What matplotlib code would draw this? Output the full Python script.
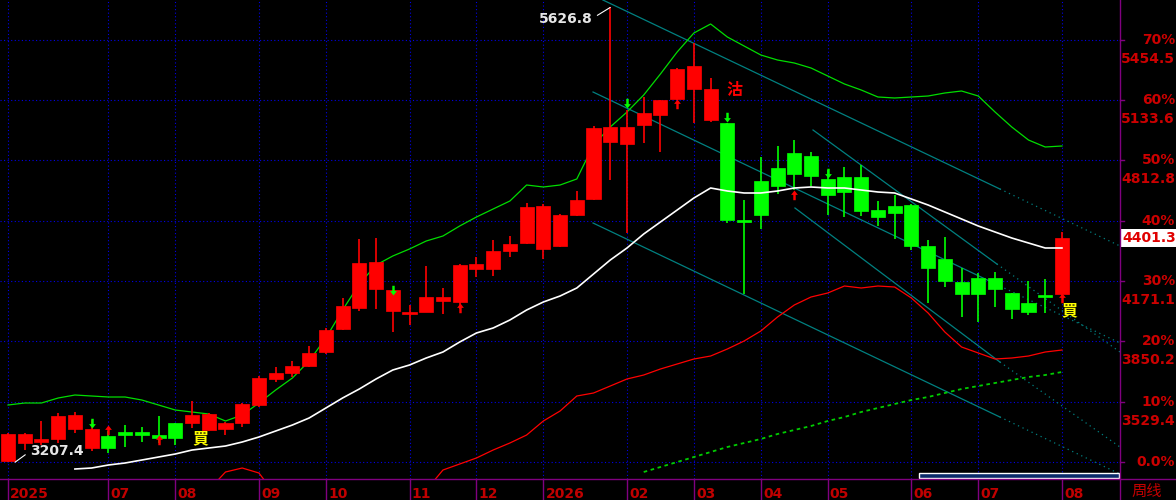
import matplotlib.pyplot as plt
import numpy as np
from matplotlib.lines import Line2D
from matplotlib.patches import Rectangle
from matplotlib.path import Path

nan = np.nan

# weekly candles (index 0 = first visible week of 2025)
opens = [3215, 3309.6, 3314.9, 3330.9, 3384.1, 3283, 3346.8, 3368.1, 3368.1, 3352.1,
         3416, 3416, 3378.7, 3384.1, 3416, 3511.7, 3650.1, 3682, 3719.2, 3793.7,
         3916.1, 4027.8, 4128.9, 4011.8, 3995.9, 4006.5, 4065, 4059.7, 4235.3, 4235.3,
         4331, 4373.6, 4341.7, 4357.6, 4522.5, 4607.7, 4910.9, 4900.3, 5001.3, 5054.5,
         5139.7, 5192.9, 5027.9, 5012, 4490.6, 4703.4, 4772.6, 4852.4, 4836.4, 4714.1,
         4724.7, 4724.7, 4549.1, 4570.4, 4575.7, 4357.6, 4288.5, 4166.1, 4187.4, 4187.4,
         4107.6, 4054.4, 4096.9, 4102.3]
highs = [3362.8, 3362.8, 3426.6, 3469.2, 3474.5, 3431.9, 3373.4, 3405.3, 3394.7, 3453.2,
         3416, 3533, 3469.2, 3421.3, 3522.4, 3666, 3713.9, 3745.8, 3825.6, 3921.4,
         4081, 4394.9, 4400.2, 4123.5, 4043.7, 4251.2, 4134.2, 4261.9, 4299.1, 4389.5,
         4410.8, 4586.4, 4581.1, 4527.9, 4650.2, 4996, 5626.8, 5081.1, 5150.3, 5134.3,
         5304.6, 5437.6, 5251.4, 5012, 4602.3, 4831.1, 4889.6, 4921.5, 4857.7, 4761.9,
         4777.9, 4788.5, 4597, 4628.9, 4581.1, 4389.5, 4405.5, 4240.6, 4214, 4219.3,
         4107.6, 4171.4, 4182.1, 4432.1]
lows = [3207.4, 3272.3, 3298.9, 3309.6, 3362.8, 3267, 3256.4, 3288.3, 3314.9, 3309.6,
        3298.9, 3389.4, 3373.4, 3352.1, 3394.7, 3501.1, 3634.1, 3660.7, 3713.9, 3783.1,
        3910.7, 4011.8, 4022.5, 3900.1, 3937.3, 4006.5, 3995.9, 4022.5, 4192.7, 4198,
        4299.1, 4368.3, 4288.5, 4352.3, 4517.2, 4602.3, 4708.7, 4426.8, 4905.6, 4857.7,
        5134.3, 5012, 5017.3, 4480, 4102.3, 4448.1, 4634.3, 4655.5, 4676.8, 4522.5,
        4511.9, 4517.2, 4464, 4394.9, 4336.3, 4054.4, 4139.5, 3979.9, 3953.3, 4033.1,
        3969.3, 3990.5, 4001.2, 4091.6]
closes = [3357.5, 3357.5, 3330.9, 3453.2, 3458.5, 3384.1, 3283, 3352.1, 3352.1, 3336.2,
          3336.2, 3458.5, 3463.9, 3416, 3517.1, 3655.4, 3682, 3719.2, 3788.4, 3910.7,
          4038.4, 4267.2, 4272.5, 4123.5, 4006.5, 4086.3, 4086.3, 4256.5, 4261.9, 4331,
          4368.3, 4565.1, 4570.4, 4522.5, 4602.3, 4985.4, 4990.7, 4990.7, 5065.2, 5134.3,
          5299.3, 5315.2, 5192.9, 4495.9, 4485.3, 4522.5, 4676.8, 4740.7, 4730, 4628.9,
          4644.9, 4543.8, 4511.9, 4533.2, 4357.6, 4240.6, 4171.4, 4102.3, 4102.3, 4128.9,
          4022.5, 4006.5, 4086.3, 4401.3]

# indicator lines, one value per week
band_up = [3511.7, 3522.4, 3522.4, 3549, 3564.9, 3559.6, 3554.3, 3554.3, 3538.3, 3511.7,
           3485.1, 3474.5, 3463.9, 3426.6, 3458.5, 3522.4, 3591.5, 3655.4, 3745.8, 3868.2,
           4017.1, 4155.5, 4256.5, 4304.4, 4341.7, 4384.2, 4410.8, 4464, 4511.9, 4554.5,
           4597, 4682.1, 4671.5, 4682.1, 4714.1, 4894.9, 4990.7, 5070.5, 5160.9, 5272.7,
           5389.7, 5490.8, 5538.7, 5469.5, 5421.6, 5373.7, 5347.1, 5331.2, 5304.6, 5262,
           5219.5, 5187.5, 5150.3, 5145, 5150.3, 5155.6, 5171.6, 5182.2, 5155.6, 5070.5,
           4990.7, 4921.5, 4884.3, 4889.6]
ma_mid = [nan, nan, nan, nan, 3171.3, 3176.6, 3192.5, 3203.2, 3219.1, 3235.1,
          3251.1, 3272.3, 3283, 3293.6, 3314.9, 3341.5, 3373.4, 3405.3, 3442.6, 3495.8,
          3549, 3596.9, 3650.1, 3697.9, 3724.5, 3761.8, 3793.7, 3846.9, 3894.8, 3921.4,
          3963.9, 4017.1, 4059.7, 4091.6, 4134.2, 4208.7, 4283.1, 4347, 4421.5, 4485.3,
          4549.1, 4613, 4666.2, 4650.2, 4639.6, 4639.6, 4650.2, 4666.2, 4671.5, 4666.2,
          4666.2, 4655.5, 4644.9, 4639.6, 4607.7, 4575.7, 4538.5, 4501.3, 4464, 4432.1,
          4400.2, 4373.6, 4347, 4347]
band_low = [nan, nan, nan, nan, nan, nan, nan, nan, nan, nan,
            2953.1, 2979.7, 3059.5, 3155.3, 3176.6, 3150, 3032.9, 2979.7, 2926.5, 2899.9,
            2899.9, 2910.6, 2942.5, 2979.7, 3017, 3059.5, 3165.9, 3197.9, 3229.8, 3272.3,
            3309.6, 3352.1, 3426.6, 3479.8, 3559.6, 3575.6, 3612.8, 3650.1, 3671.3, 3703.3,
            3729.9, 3756.5, 3772.4, 3809.7, 3852.2, 3905.4, 3979.9, 4043.7, 4086.3, 4107.6,
            4144.8, 4134.2, 4144.8, 4139.5, 4081, 4001.2, 3900.1, 3820.3, 3788.4, 3756.5,
            3761.8, 3772.4, 3793.7, 3804.3]
ma_long = [nan] * 38 + [3155.3, 3181.9,
           3208.5, 3235.1, 3261.7, 3288.3, 3309.6, 3330.9, 3357.5, 3378.7, 3400, 3426.6,
           3447.9, 3474.5, 3495.8, 3517.1, 3538.3, 3554.3, 3575.6, 3596.9, 3612.8, 3628.8,
           3644.7, 3660.7, 3671.3, 3687.3]

# channel lines: start, end of solid part, end of dotted extension (week index, price)
chan_x0 = [35.56, 34.97, 34.97, 48.12, 47.04]
chan_p0 = [5666.3, 5176.9, 4480.0, 4974.7, 4559.8]
chan_x1 = [59.29, 59.29, 59.29, 59.11, 59.29]
chan_p1 = [4660.9, 4144.8, 3447.9, 4261.9, 3740.5]
chan_x2 = [66.47, 66.47, 66.47, 66.47, 66.47]
chan_p2 = [4357.6, 3841.6, 3144.7, 3793.7, 3288.3]

# signals
up_idx = [6, 9, 27, 40, 47, 63]
up_tip = [3405.3, 3352.1, 4054.4, 5139.7, 4655.5, 4107.6]
down_idx = [5, 23, 37, 43, 49]
down_tip = [3389.4, 4096.9, 5091.8, 5017.3, 4719.4]
buy_x = [11.48, 63.42]
buy_p = [3336.2, 4017.1]
sell_x = [43.45]
sell_p = [5187.5]

month_idx = [0, 6, 10, 15, 19, 24, 28, 32, 37, 41, 45, 49, 54, 58, 63]
month_labels = ['2025', '07', '08', '09', '10', '11', '12', '2026',
                '02', '03', '04', '05', '06', '07', '08']

pct_prices = [3208.5, 3529.4, 3850.2, 4171.1, 4491.9, 4812.8, 5133.6, 5454.5]
pct_labels = ['0.0%', '10%', '20%', '30%', '40%', '50%', '60%', '70%']
price_labels = ['', '3529.4', '3850.2', '4171.1', '', '4812.8', '5133.6', '5454.5']
last_price = 4401.3
high_idx, high_price = 36, 5626.8
low_idx, low_price = 0, 3207.4

# ---- figure ----
fig = plt.figure(figsize=(11.76, 5.0), dpi=100, facecolor='black')
ax = fig.add_axes([0, 21 / 500, 1120 / 1176, 479 / 500])
ax.set_facecolor('black')
ax.set_xlim(-0.478, 66.47)
ax.set_ylim(3118.1, 5666.3)
ax.set_axis_off()

grid_kw = dict(color='#0000e8', lw=0.8, ls=(0, (1, 2.2)), zorder=1)
for p in pct_prices:
    ax.axhline(p, **grid_kw)
for m in month_idx:
    ax.axvline(m, **grid_kw)

# channels
for i in range(len(chan_x0)):
    ax.plot([chan_x0[i], chan_x1[i]], [chan_p0[i], chan_p1[i]], color='#008080', lw=0.9, zorder=2)
    ax.plot([chan_x1[i], chan_x2[i]], [chan_p1[i], chan_p2[i]], color='#008080', lw=0.9,
            ls=(0, (1, 3)), zorder=2)

x = np.arange(len(opens))
ax.plot(x, band_up, color='#00dd00', lw=0.9, zorder=3)
ax.plot(x, band_low, color='#ff0000', lw=0.9, zorder=3)
ax.plot(x, ma_long, color='#00cc00', lw=1.3, ls=(0, (2, 2)), zorder=3)

# candles
w = 0.84
min_h = 10.6
for i in range(len(opens)):
    o, h, l, c = opens[i], highs[i], lows[i], closes[i]
    col = '#ff0000' if c >= o else '#00ff00'
    ax.vlines(i, l, h, color=col, lw=1.2, zorder=4)
    bottom = min(o, c)
    height = max(abs(c - o), min_h)
    ax.add_patch(Rectangle((i - w / 2, bottom), w, height, fc=col, ec=col, lw=0.5, zorder=5))

ax.plot(x, ma_mid, color='white', lw=1.2, zorder=6)

# signal arrows
up_arrow = Path([(0, 0), (-0.7, -0.9), (-0.25, -0.9), (-0.25, -2), (0.25, -2),
                 (0.25, -0.9), (0.7, -0.9), (0, 0)],
                [Path.MOVETO] + [Path.LINETO] * 6 + [Path.CLOSEPOLY])
down_arrow = Path([(0, 0), (-0.7, 0.9), (-0.25, 0.9), (-0.25, 2), (0.25, 2),
                   (0.25, 0.9), (0.7, 0.9), (0, 0)],
                  [Path.MOVETO] + [Path.LINETO] * 6 + [Path.CLOSEPOLY])
ax.plot(up_idx, up_tip, ls='none', marker=up_arrow, ms=14, color='#ff0000', mew=0, zorder=7)
ax.plot(down_idx, down_tip, ls='none', marker=down_arrow, ms=14, color='#00ff00', mew=0, zorder=7)

cjk = ['Noto Sans CJK TC', 'DejaVu Sans']
for bx, bp in zip(buy_x, buy_p):
    ax.text(bx, bp, '買', color='#ffff00', fontsize=11.5, fontweight='bold', family=cjk,
            ha='center', va='center', zorder=8)
for sx, sp in zip(sell_x, sell_p):
    ax.text(sx, sp, '沽', color='#ff0000', fontsize=11.5, fontweight='bold', family=cjk,
            ha='center', va='center', zorder=8)

# high / low labels
ax.annotate(f'{high_price:.1f}', xy=(high_idx, high_price), xytext=(-13, -8),
            textcoords='offset points', ha='right', va='center', color='#e6e6e6',
            fontsize=10, fontweight='bold',
            arrowprops=dict(arrowstyle='-', color='white', lw=0.8, relpos=(1, 0.5),
                            shrinkA=2, shrinkB=0), zorder=8)
ax.annotate(f'{low_price:.1f}', xy=(low_idx + 0.42, low_price), xytext=(11, 8),
            textcoords='offset points', ha='left', va='center', color='#e6e6e6',
            fontsize=10, fontweight='bold',
            arrowprops=dict(arrowstyle='-', color='white', lw=0.8, relpos=(0, 0.5),
                            shrinkA=2, shrinkB=0), zorder=8)

# right axis labels
ytr = ax.get_yaxis_transform()
lab_kw = dict(color='#cc0000', fontsize=10, fontweight='bold', ha='right', va='center',
              annotation_clip=False)
for p, pl, prl in zip(pct_prices, pct_labels, price_labels):
    ax.plot([1.0, 1.0036], [p, p], transform=ytr, color='#800080', lw=1, clip_on=False)
    ax.annotate(pl, xy=(1.0491, p), xycoords=ytr, **lab_kw)
    if prl:
        ax.annotate(prl, xy=(1.0491, p), xycoords=ytr, xytext=(0, -13.7),
                    textcoords='offset points', **lab_kw)
ax.annotate(f'{last_price:.1f}', xy=(1.0, last_price), xycoords=ytr, xytext=(1.5, 0),
            textcoords='offset points', ha='left', va='center', color='#e00000',
            fontsize=10, fontweight='bold', annotation_clip=False,
            bbox=dict(boxstyle='square,pad=0.15', fc='white', ec='none'))

# bottom date labels
xtr = ax.get_xaxis_transform()
for m, lab in zip(month_idx, month_labels):
    ax.plot([m, m], [0, -21 / 479], transform=xtr, color='#800080', lw=1, clip_on=False)
    ax.annotate(lab, xy=(m, 0), xycoords=xtr, xytext=(1.5, -5.5), textcoords='offset points',
                ha='left', va='top', color='#c00000', fontsize=10, fontweight='bold',
                annotation_clip=False)

# scrollbar
ax.add_patch(Rectangle((919 / 1120, 1.5 / 479), 200 / 1120, 4.5 / 479, transform=ax.transAxes,
                       fc='#0a2a6a', ec='white', lw=1, zorder=9, clip_on=False))

# frame lines
fig.add_artist(Line2D([0, 1], [21 / 500, 21 / 500], transform=fig.transFigure,
                      color='#800080', lw=1))
fig.add_artist(Line2D([1120 / 1176, 1120 / 1176], [0, 1], transform=fig.transFigure,
                      color='#800080', lw=1))
fig.text(1131 / 1176, 9 / 500, '周线', color='#c00000', fontsize=11, family=cjk,
         ha='left', va='center')

fig.savefig('out.png', dpi=100, facecolor='black')
